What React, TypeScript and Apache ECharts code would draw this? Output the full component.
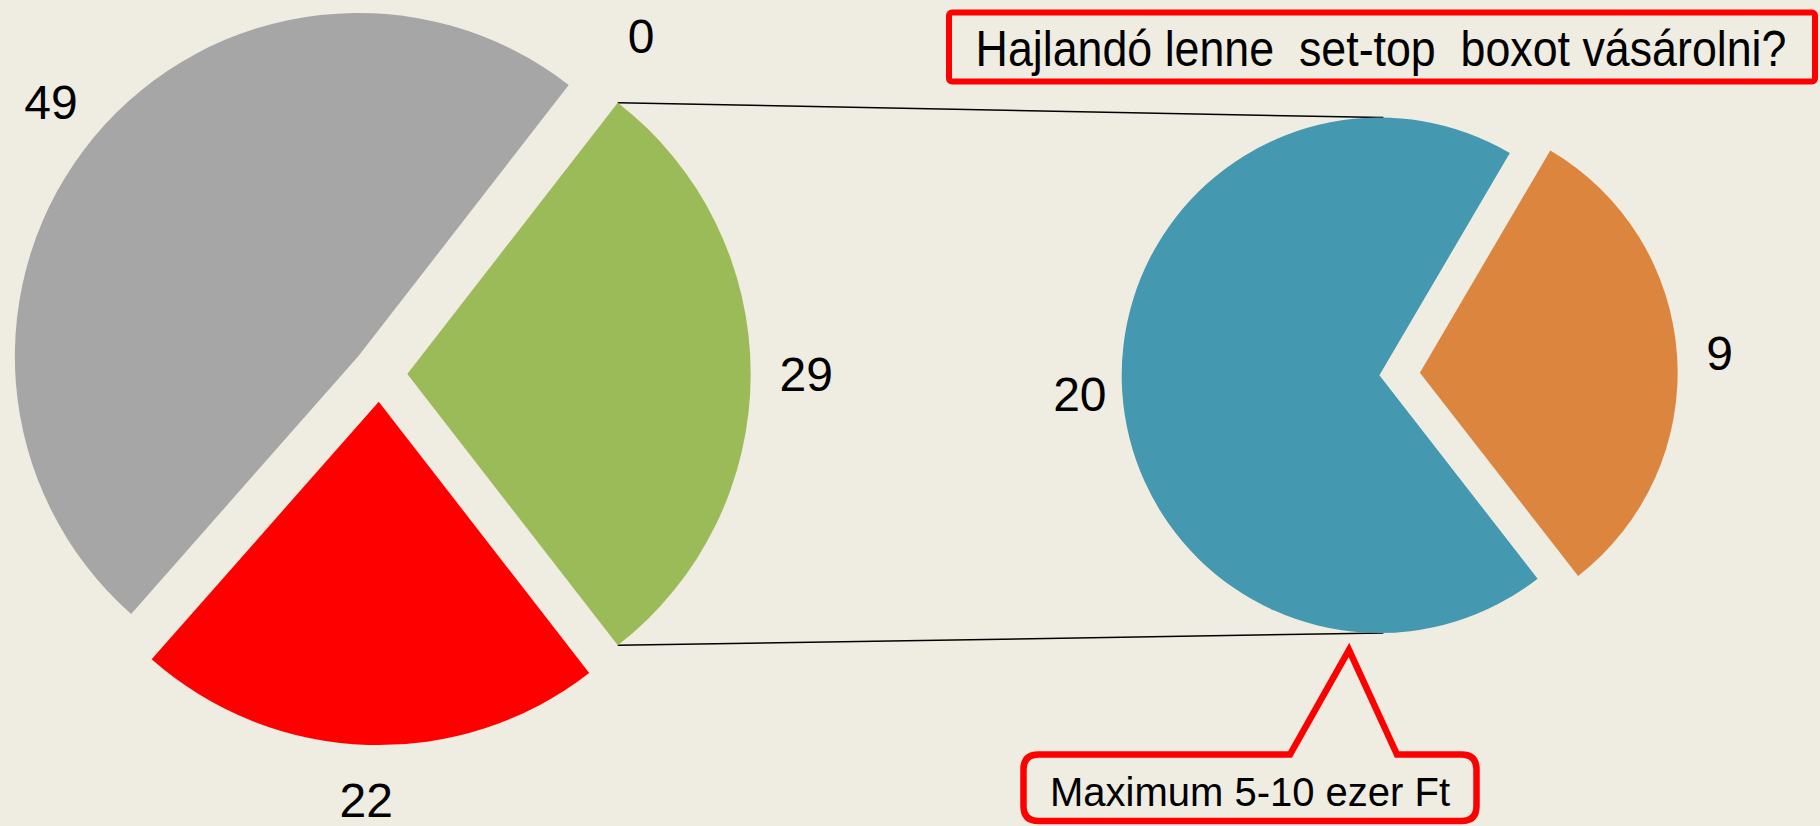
import React, { useEffect, useRef } from "react";
import * as echarts from "echarts";

// ---------- data ----------
const mainCategories = ["Igen", "Nem", "Nem tudja", "Egyéb"];
const mainValues = [29, 22, 49, 0];
const mainColors = ["#9BBB59", "#FF0000", "#A6A6A6", "#A6A6A6"];

const subCategories = ["Több mint 10 ezer Ft", "Maximum 5-10 ezer Ft"];
const subValues = [9, 20];
const subColors = ["#DC853F", "#4498B0"];

const titleText = "Hajlandó lenne  set-top  boxot vásárolni?";
const calloutText = "Maximum 5-10 ezer Ft";

// ---------- layout / style ----------
const W = 1820;
const H = 826;
const BG = "#EFECE1";
const P1 = { cx: 379.6, cy: 374, r: 343.4, offset: 27.7 };
const P2 = { cx: 1379.4, cy: 375.3, r: 257.7, offset: 40.6, startAngle: 59.6 };
const LABEL_FONT = '"Liberation Sans", Arimo, Arial, sans-serif';

const total1 = mainValues.reduce((s, v) => s + v, 0);
const startAngle1 = (mainValues[0] / total1) * 180; // split slice centred on the right

const deg = Math.PI / 180;

function buildOption(): echarts.EChartsOption {
  // split slice (first) geometry for connector lines
  const midA = (startAngle1 - (mainValues[0] / total1) * 180) * deg;
  const apexX = P1.cx + P1.offset * Math.cos(midA);
  const apexY = P1.cy - P1.offset * Math.sin(midA);
  const topX = apexX + P1.r * Math.cos(startAngle1 * deg);
  const topY = apexY - P1.r * Math.sin(startAngle1 * deg);
  const endA = (startAngle1 - (mainValues[0] / total1) * 360) * deg;
  const botX = apexX + P1.r * Math.cos(endA);
  const botY = apexY - P1.r * Math.sin(endA);

  // callout shape
  const cb = { left: 1023.5, right: 1476.5, top: 754.5, bottom: 821, r: 15 };
  const ptr = { l: 1290, rr: 1397, ax: 1349, ay: 650 };
  const d =
    `M${cb.left + cb.r} ${cb.top} L${ptr.l} ${cb.top} L${ptr.ax} ${ptr.ay} L${ptr.rr} ${cb.top} ` +
    `L${cb.right - cb.r} ${cb.top} Q${cb.right} ${cb.top} ${cb.right} ${cb.top + cb.r} ` +
    `L${cb.right} ${cb.bottom - cb.r} Q${cb.right} ${cb.bottom} ${cb.right - cb.r} ${cb.bottom} ` +
    `L${cb.left + cb.r} ${cb.bottom} Q${cb.left} ${cb.bottom} ${cb.left} ${cb.bottom - cb.r} ` +
    `L${cb.left} ${cb.top + cb.r} Q${cb.left} ${cb.top} ${cb.left + cb.r} ${cb.top} Z`;
  try {
    echarts.graphic.registerShape("callout", echarts.graphic.extendPath(d, {}) as any);
  } catch (e) {
    /* already registered */
  }

  const common = {
    type: "pie" as const,
    clockwise: true,
    avoidLabelOverlap: false,
    selectedMode: "multiple" as const,
    emphasis: { disabled: true },
    labelLine: { show: false },
  };

  return {
    animation: false,
    backgroundColor: BG,
    series: [
      {
        ...common,
        name: "main",
        center: [P1.cx, P1.cy],
        radius: [0, P1.r],
        startAngle: startAngle1,
        selectedOffset: P1.offset,
        label: { show: false },
        z: 2,
        data: mainValues.map((v, i) => ({
          name: mainCategories[i],
          value: v,
          selected: true,
          itemStyle: { color: mainColors[i] },
        })),
      },
      {
        ...common,
        name: "mainLabels",
        center: [P1.cx, P1.cy],
        radius: [P1.r + 12, P1.r + 93],
        startAngle: startAngle1,
        selectedOffset: P1.offset,
        itemStyle: { color: "rgba(0,0,0,0)" },
        label: {
          show: true,
          position: "inside",
          formatter: "{c}",
          fontSize: 48,
          fontFamily: LABEL_FONT,
          color: "#000",
        },
        z: 3,
        data: mainValues.map((v, i) => ({ name: mainCategories[i], value: v, selected: true })),
      },
      {
        ...common,
        name: "sub",
        center: [P2.cx, P2.cy],
        radius: [0, P2.r],
        startAngle: P2.startAngle,
        selectedOffset: P2.offset,
        label: { show: false },
        z: 2,
        data: subValues.map((v, i) => ({
          name: subCategories[i],
          value: v,
          selected: i === 0,
          itemStyle: { color: subColors[i] },
        })),
      },
      {
        ...common,
        name: "subLabels",
        center: [P2.cx, P2.cy],
        radius: [P2.r + 10, P2.r + 69],
        startAngle: P2.startAngle,
        selectedOffset: P2.offset,
        itemStyle: { color: "rgba(0,0,0,0)" },
        label: {
          show: true,
          position: "inside",
          formatter: "{c}",
          fontSize: 48,
          fontFamily: LABEL_FONT,
          color: "#000",
        },
        z: 3,
        data: subValues.map((v, i) => ({ name: subCategories[i], value: v, selected: i === 0 })),
      },
    ],
    graphic: {
      elements: [
        {
          type: "line",
          z: 1,
          shape: { x1: topX, y1: topY, x2: P2.cx + 4, y2: P2.cy - P2.r },
          style: { stroke: "#000", lineWidth: 1.5 },
        },
        {
          type: "line",
          z: 1,
          shape: { x1: botX, y1: botY, x2: P2.cx + 4, y2: P2.cy + P2.r },
          style: { stroke: "#000", lineWidth: 1.5 },
        },
        {
          type: "rect",
          z: 10,
          shape: { x: 949, y: 12.5, width: 866, height: 69, r: 3 },
          style: { fill: "rgba(0,0,0,0)", stroke: "#FF0000", lineWidth: 6 },
        },
        {
          type: "text",
          z: 11,
          x: 1381,
          y: 49,
          scaleX: 0.895,
          scaleY: 1,
          style: {
            text: titleText,
            fontSize: 50,
            fontFamily: LABEL_FONT,
            fill: "#000",
            align: "center",
            verticalAlign: "middle",
          } as any,
        },
        {
          type: "callout" as any,
          z: 10,
          x: 0,
          y: 0,
          scaleX: 1,
          scaleY: 1,
          style: { fill: BG, stroke: "#FF0000", lineWidth: 6.5, lineJoin: "miter" },
        } as any,
        {
          type: "text",
          z: 11,
          x: 1250,
          y: 792,
          style: {
            text: calloutText,
            fontSize: 40,
            fontFamily: LABEL_FONT,
            fill: "#000",
            align: "center",
            verticalAlign: "middle",
          } as any,
        },
      ],
    },
  } as any;
}

export default function App() {
  const ref = useRef<HTMLDivElement>(null);
  useEffect(() => {
    document.body.style.margin = "0";
    document.body.style.background = BG;
    if (!ref.current) return;
    const chart = echarts.init(ref.current, null, { renderer: "svg" });
    chart.setOption(buildOption());
    return () => {
      chart.dispose();
    };
  }, []);
  return <div ref={ref} style={{ width: W, height: H }} />;
}
